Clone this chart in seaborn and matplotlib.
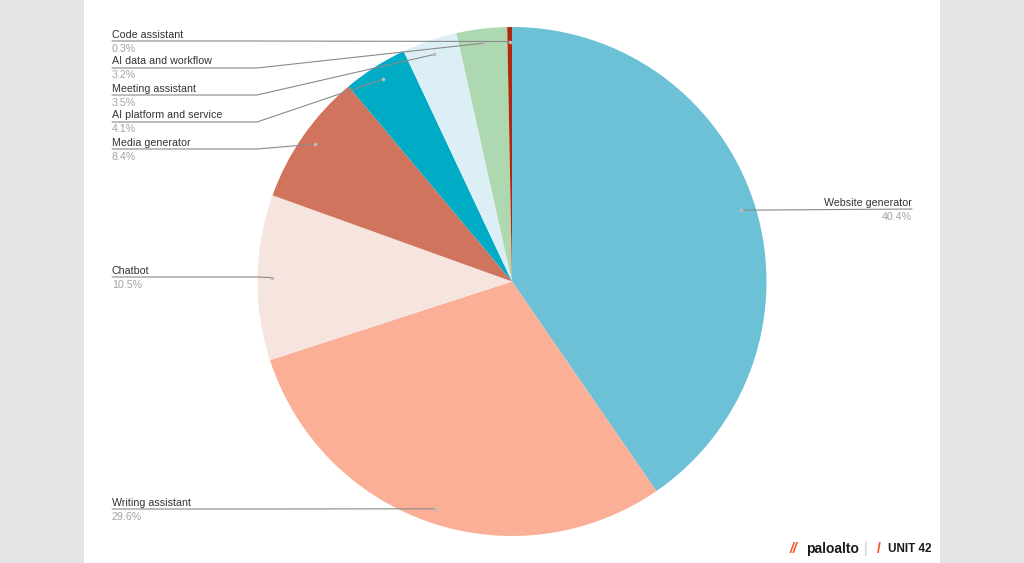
import numpy as np
import matplotlib
matplotlib.use("Agg")
import matplotlib.pyplot as plt
import seaborn as sns

# ---- data ----
categories = ["Website generator", "Writing assistant", "Chatbot", "Media generator",
              "AI platform and service", "Meeting assistant", "AI data and workflow",
              "Code assistant"]
shares = [40.4, 29.6, 10.5, 8.4, 4.1, 3.5, 3.2, 0.3]
pct_labels = ["40.4%", "29.6%", "10.5%", "8.4%", "4.1%", "3.5%", "3.2%", "0.3%"]
slice_colors = ["#6DC1D6", "#FBAF97", "#F6E4DF", "#D1745D",
                "#00ACC5", "#DCEFF6", "#AED8B0", "#B0280E"]

sns.set_theme(style="white")
plt.rcParams['font.family'] = ['Liberation Sans', 'DejaVu Sans']

W, H = 1024, 563
fig = plt.figure(figsize=(W / 100, H / 100), dpi=100, facecolor="#E4E4E4")
ax = fig.add_axes([0, 0, 1, 1])
ax.set_facecolor("#E4E4E4")

def Y(ypix):
    return H - ypix

# white card
ax.add_patch(plt.Rectangle((84, 0), 940 - 84, H, facecolor="white", edgecolor="none", zorder=0))

cx, cy, R = 512, Y(281.5), 254.5
palette = sns.color_palette(slice_colors)
wedges, _ = ax.pie(shares, startangle=90, counterclock=False, center=(cx, cy),
                   radius=R, colors=palette, wedgeprops=dict(linewidth=0))
for w in wedges:
    w.set_zorder(2)

# label layout (pixel positions of the underline row)
label_rows = {
    "Code assistant": 41, "AI data and workflow": 68, "Meeting assistant": 95,
    "AI platform and service": 122, "Media generator": 149,
    "Chatbot": 277, "Writing assistant": 509, "Website generator": 209,
}
name_col = "#333333"
pct_col = "#A3A3A3"
line_col = "#8A8A8A"
fs = 7.7

for w, cat, pct in zip(wedges, categories, pct_labels):
    mid = np.deg2rad((w.theta1 + w.theta2) / 2)
    px = cx + 0.943 * R * np.cos(mid)
    py = cy + 0.943 * R * np.sin(mid)
    ly = Y(label_rows[cat])
    if cat == "Website generator":
        x0 = 912
        ax.plot([x0, px], [ly, py], color=line_col, lw=0.8, zorder=3)
        ax.text(x0, ly + 1.5, cat, ha="right", va="bottom", fontsize=fs, color=name_col, zorder=4)
        ax.text(x0, ly - 2.5, pct, ha="right", va="top", fontsize=fs, color=pct_col, zorder=4)
    else:
        x0 = 112
        elbow = min(257, px)
        ax.plot([x0, elbow, px], [ly, ly, py], color=line_col, lw=0.8, zorder=3)
        ax.text(x0, ly + 1.5, cat, ha="left", va="bottom", fontsize=fs, color=name_col, zorder=4)
        ax.text(x0, ly - 2.5, pct, ha="left", va="top", fontsize=fs, color=pct_col, zorder=4)
    ax.plot([px], [py], marker="o", ms=1.6, color="#BBBBBB", zorder=4)

# footer logos (text)
ax.text(790, Y(549), "//", fontsize=10, color="#F04E23", fontweight="bold", style="italic",
        ha="left", va="center", zorder=4)
ax.text(806, Y(549), "paloalto", fontsize=10, color="#1A1A1A", fontweight="bold",
        ha="left", va="center", zorder=4)
ax.text(866, Y(549), "|", fontsize=10, color="#C8C8C8", ha="center", va="center", zorder=4)
ax.text(877, Y(549), "/", fontsize=10, color="#F04E23", fontweight="bold",
        ha="left", va="center", zorder=4)
ax.text(888, Y(549), "UNIT 42", fontsize=8.5, color="#1A1A1A", fontweight="bold",
        ha="left", va="center", zorder=4)

ax.set_xlim(0, W)
ax.set_ylim(0, H)
ax.set_aspect("equal", adjustable="box")
ax.axis("off")

fig.savefig("out.png", dpi=100, facecolor=fig.get_facecolor())
